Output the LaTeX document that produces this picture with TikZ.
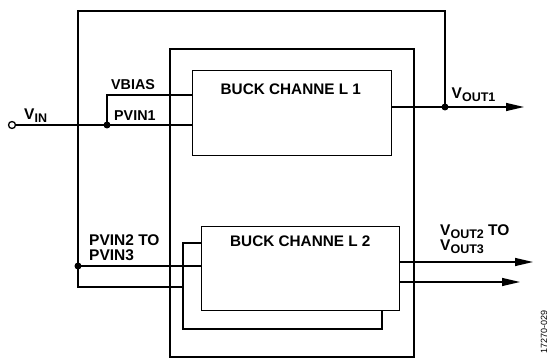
\documentclass[tikz,border=0pt]{standalone}
\usepackage{fontspec}
\setmainfont{Liberation Sans}
\usetikzlibrary{arrows.meta}
\newcommand{\sbs}[1]{\raisebox{-2.6pt}{\fontsize{12.5}{13}\bfseries\selectfont #1}}
\begin{document}
\begin{tikzpicture}[x=1pt,y=-1pt,
  wire/.style={line width=1.3pt},
  chip/.style={draw,line width=2.2pt},
  chan/.style={draw,line width=1.4pt,fill=white,inner sep=0pt},
  lbl/.style={font=\fontsize{15.5}{16}\bfseries\selectfont,inner sep=0pt,anchor=base west},
  slbl/.style={lbl,font=\fontsize{14.3}{15}\bfseries\selectfont},
  blbl/.style={lbl,font=\fontsize{15.3}{16}\bfseries\selectfont},
  dotc/.style={circle,fill,inner sep=0pt,minimum size=7pt},
  term/.style={circle,draw,line width=1.3pt,fill=white,inner sep=0pt,minimum size=7pt},
  arr/.style={wire,-{Triangle[length=18pt,width=8pt]}}]
\useasboundingbox (0,0) rectangle (550,358);

% chip and channel boxes
\node[chip,minimum width=244pt,minimum height=308pt,anchor=north west,inner sep=0pt] (chipbox) at (169,48) {};
\node[chan,minimum width=199pt,minimum height=85pt,anchor=north west] (ch1) at (192,70) {};
\node[chan,minimum width=198pt,minimum height=84pt,anchor=north west] (ch2) at (201,226) {};

% coordinates
\coordinate (j1) at (107,125);
\coordinate (vbiasin) at (192,95);
\coordinate (j2) at (445,107);
\coordinate (j3) at (78,266);
\coordinate (lt) at (78,11);
\coordinate (rt) at (445,11);
\coordinate (lb) at (78,287);
\coordinate (bk1) at (183,243);
\coordinate (bk2) at (183,329);
\coordinate (bk3) at (382,329);
\coordinate (o1) at (524,107);
\coordinate (o2) at (533,262);
\coordinate (o3) at (520,282);
\node[term] (vinc) at (12,125) {};

% back channel outline
\draw[wire] (bk1 -| ch2.west) -- (bk1) -- (bk2) -- (bk3) -- (bk3 |- ch2.south);

% input wiring
\draw[wire] (vinc.east) -- (j1 -| ch1.west);
\draw[wire] (j1) |- (vbiasin);
\draw[wire] (j2) -- (rt) -- (lt) -- (lb) -- (lb -| bk1);
\draw[wire] (j3) -- (j3 -| ch2.west);

% outputs
\draw[arr] (j2 -| ch1.east) -- (o1);
\draw[arr] (o2 -| ch2.east) -- (o2);
\draw[arr] (o3 -| ch2.east) -- (o3);

% dots
\node[dotc] (d1) at (j1) {};
\node[dotc] (d2) at (j2) {};
\node[dotc] (d3) at (j3) {};

% labels
\node[lbl] (vinl) at (24,120) {V\sbs{IN}};
\node[slbl] (vbiasl) at (111,90) {VBIAS};
\node[slbl] (pvin1l) at (114,121) {PVIN1};
\node[blbl] (ch1l) at (220.5,94.3) {BUCK CHANNE L 1};
\node[lbl] (vo1l) at (451.5,99) {V\sbs{OUT1}};
\node[lbl] (pvin2l) at (89,245.5) {PVIN2 TO};
\node[lbl] (pvin3l) at (89,261) {PVIN3};
\node[blbl] (ch2l) at (230,246.7) {BUCK CHANNE L 2};
\node[lbl] (vo2l) at (440,236) {V\sbs{OUT2} TO};
\node[lbl] (vo3l) at (440,251) {V\sbs{OUT3}};
\node[rotate=90,font=\fontsize{9}{10}\selectfont,inner sep=0pt] (figid) at (544,332) {17270-029};
\end{tikzpicture}
\end{document}
